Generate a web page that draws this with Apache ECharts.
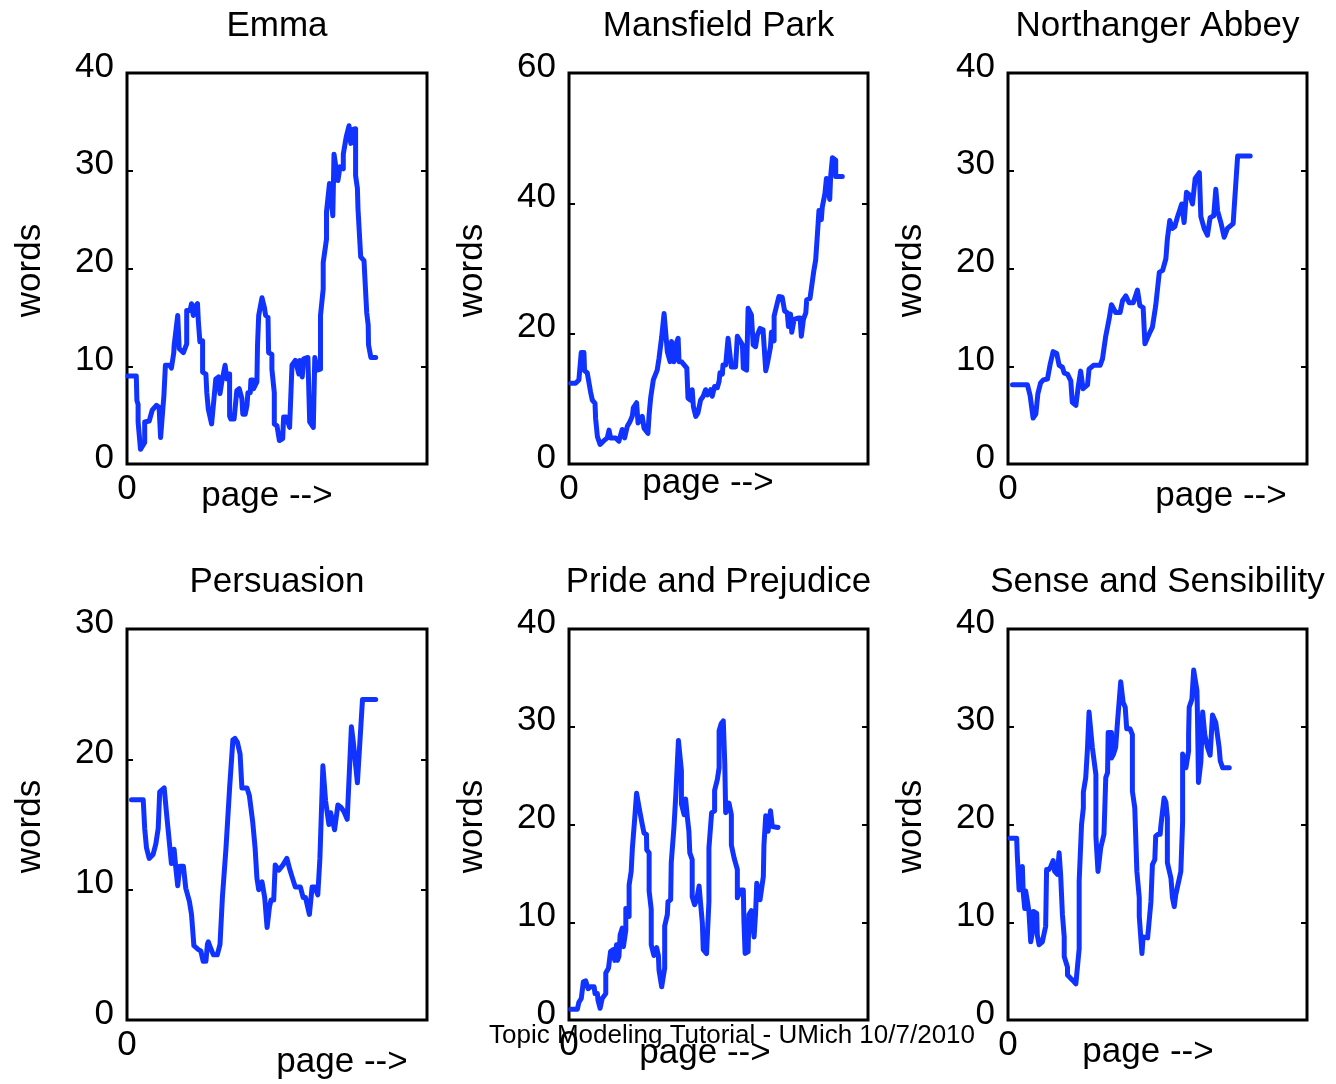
<!DOCTYPE html>
<html>
<head>
<meta charset="utf-8">
<script src="https://cdn.jsdelivr.net/npm/echarts@6/dist/echarts.min.js"></script>
<style>html,body{margin:0;padding:0;background:#fff}#c{width:1336px;height:1084px}</style>
</head>
<body>
<div id="c"></div>
<script>
// ---- data (x = position through the book, 0..100; y = words) ----
const titles = ["Emma", "Mansfield Park", "Northanger Abbey", "Persuasion", "Pride and Prejudice", "Sense and Sensibility"];
const yMax = [40, 60, 40, 30, 40, 40];
const yStep = [10, 20, 10, 10, 10, 10];

const emmaX = [0.3,3.1,3.3,3.7,3.7,4.5,5.1,5.9,5.9,7.4,7.8,8.4,9.8,10.7,11.2,11.7,12.3,12.8,14.3,14.8,15.6,15.7,16.9,17.4,18.8,19.9,19.9,21.0,21.5,22.1,22.7,23.5,23.8,24.3,25.2,25.2,26.3,26.6,27.1,28.2,29.0,29.6,30.5,31.0,31.6,32.7,33.3,33.5,34.2,34.2,34.6,35.7,36.6,37.4,38.3,38.6,39.4,40.0,40.3,41.1,41.3,42.0,42.2,43.3,43.5,43.9,45.0,45.8,46.2,47.0,47.2,48.3,48.3,49.1,49.1,50.0,50.8,51.9,52.2,53.1,54.2,55.0,56.1,57.3,57.6,58.4,58.9,60.3,60.9,62.1,62.6,63.4,64.5,64.5,65.4,65.4,66.5,66.5,67.5,68.6,69.0,70.3,71.0,72.1,72.1,73.1,74.0,74.6,75.1,76.2,76.2,76.8,77.0,77.9,79.0,79.9,80.4,80.5,81.3,82.9];
const emmaY = [9.0,9.0,6.5,6.1,4.3,1.5,1.8,2.2,4.3,4.4,4.6,5.5,6.0,5.8,2.7,2.9,7.0,10.1,10.1,9.8,11.4,12.1,15.2,11.8,11.4,12.3,15.7,15.7,16.4,15.2,16.1,16.4,14.5,12.5,12.6,9.4,9.2,7.3,5.6,4.1,6.7,8.7,8.9,7.2,8.4,10.1,8.7,9.2,9.2,4.9,4.6,4.6,7.5,7.7,6.7,5.1,5.1,6.0,7.3,7.3,8.6,8.6,7.7,8.4,12.1,15.2,17.0,16.0,15.2,15.0,11.4,11.2,9.7,7.3,4.1,3.9,2.4,2.6,4.8,4.8,3.75,10.1,10.6,9.2,10.6,8.9,10.75,10.9,4.3,3.75,10.9,9.6,9.7,15.2,17.9,20.6,23.0,25.8,28.7,25.4,31.7,29.0,30.4,30.2,31.7,33.5,34.6,32.8,34.2,34.3,29.5,28.2,26.1,21.2,20.8,15.5,14.2,12.2,10.9,10.9];

const mansX = [0.6,2.2,3.3,4.1,5.0,5.2,6.1,7.2,7.8,8.7,8.9,9.5,10.4,11.5,12.8,13.4,13.9,15.6,16.7,17.3,17.8,18.6,19.5,20.4,21.2,21.5,22.6,23.1,23.7,24.5,25.1,26.4,26.8,27.3,28.2,29.5,30.1,30.7,31.0,31.8,32.9,33.8,34.3,35.1,35.7,36.5,36.8,37.6,38.2,39.4,39.8,40.7,41.2,41.6,42.4,43.1,44.0,44.9,45.7,46.3,47.4,47.9,48.7,49.6,50.2,50.5,51.3,51.5,52.4,53.2,53.8,54.3,55.7,56.3,56.9,58.0,58.3,59.4,59.9,61.0,61.6,62.4,63.0,63.9,64.9,65.8,66.3,67.4,67.7,68.6,68.6,69.5,70.2,71.3,72.1,73.0,73.4,74.1,74.5,75.3,76.6,77.3,77.7,78.4,79.2,79.5,80.6,81.9,82.5,83.1,83.6,84.4,84.7,85.6,86.1,86.6,87.2,87.5,88.1,89.2,89.2,91.4];
const mansY = [12.4,12.4,12.9,17.1,17.1,14.3,14.0,11.1,9.8,9.3,7.0,4.2,3.0,3.5,4.0,5.2,4.0,4.0,3.5,4.5,5.3,4.0,5.8,6.5,7.4,8.6,9.4,6.3,6.0,7.3,5.5,4.7,7.6,10.1,12.9,14.4,16.2,16.5,19.5,23.1,17.2,15.7,18.8,15.7,18.3,19.3,15.7,15.7,15.5,14.7,10.1,9.8,11.4,8.8,7.3,7.8,9.8,10.4,11.4,10.6,11.4,10.4,11.9,11.7,12.7,14.0,13.8,15.2,15.2,19.3,19.3,14.9,14.9,19.6,19.3,18.3,14.7,14.4,23.9,22.9,18.3,18.0,19.8,20.8,20.6,14.3,15.3,18.0,20.2,18.9,22.7,24.4,25.7,25.6,23.5,23.2,21.1,23.0,20.2,22.2,22.4,22.4,19.6,22.2,23.2,25.2,25.4,29.7,31.3,35.4,38.9,37.5,39.4,41.5,43.8,43.8,40.6,44.1,47.0,46.6,44.1,44.1];

const northX = [1.5,6.5,7.4,8.4,9.3,10.0,10.9,11.8,13.2,14.1,15.1,16.3,17.1,18.2,18.8,19.9,21.0,21.5,22.7,23.4,24.3,25.1,26.6,27.1,28.6,30.8,31.6,32.7,33.8,34.6,36.0,37.5,38.3,39.4,40.5,41.9,43.3,44.1,45.2,45.8,47.2,48.3,49.4,50.6,51.7,52.8,53.3,54.1,55.0,55.8,56.7,58.1,58.9,59.7,60.8,61.7,62.6,64.0,64.5,65.6,66.7,67.6,68.8,69.5,70.1,71.2,72.3,73.4,75.3,76.8,81.0];
const northY = [8.1,8.1,7.0,4.7,5.1,7.2,8.3,8.6,8.7,10.2,11.5,11.3,10.1,9.9,9.3,9.2,8.5,6.3,6.0,7.7,9.5,7.7,8.1,9.7,10.1,10.1,10.75,13.1,14.8,16.3,15.5,15.5,16.7,17.2,16.5,16.5,17.8,16.2,16.0,12.3,13.3,14.0,16.2,19.6,19.8,21.0,23.0,24.9,24.1,24.3,25.3,26.6,24.7,27.8,27.5,26.6,29.2,29.8,25.3,24.1,23.4,25.2,25.4,28.1,25.9,24.7,23.2,24.1,24.6,31.5,31.5];

const persX = [1.5,5.4,5.9,6.5,7.4,8.7,9.6,10.4,10.9,12.4,13.2,14.3,14.8,15.7,16.3,16.9,17.6,18.8,19.6,20.8,21.5,22.3,23.8,24.6,25.4,26.3,26.8,27.1,27.9,28.8,30.1,31.0,31.8,33.0,34.2,35.3,36.0,36.8,37.7,38.3,40.0,40.8,41.9,42.7,43.3,43.9,45.0,45.9,46.7,47.5,48.0,48.9,49.4,50.6,52.0,53.3,54.2,55.0,56.1,57.8,58.7,59.5,60.8,61.7,62.6,63.6,64.3,65.3,66.2,67.3,67.9,69.2,70.3,71.4,72.3,73.4,74.8,75.4,76.8,78.5,82.9];
const persY = [16.9,16.9,14.7,13.2,12.4,12.7,13.5,14.7,17.5,17.8,15.8,13.2,12.0,13.1,11.6,10.3,11.8,11.8,10.1,9.1,8.1,5.7,5.4,5.3,4.5,4.5,5.8,6.0,5.5,5.0,5.0,5.8,9.4,13.2,17.8,21.5,21.6,21.3,20.4,17.8,17.8,17.2,15.2,13.2,10.9,10.0,10.6,9.4,7.1,8.7,9.2,9.2,11.9,11.5,11.9,12.4,11.6,11.0,10.2,10.2,9.4,9.4,8.1,10.2,10.2,9.6,12.4,19.5,16.8,15.0,15.9,14.6,16.5,16.3,16.0,15.4,22.5,21.4,18.2,24.6,24.6];

const prideX = [0.6,2.8,3.3,4.1,4.8,5.6,6.4,7.2,8.4,8.7,9.5,9.7,10.4,11.1,12.3,12.3,13.2,13.9,14.8,15.3,15.9,16.2,16.7,17.1,17.8,18.2,19.0,19.0,20.1,20.1,20.8,21.2,22.0,22.6,23.4,24.5,25.1,25.9,26.0,26.8,26.8,27.5,27.5,28.4,29.3,29.9,30.1,31.0,32.0,32.0,32.9,33.1,34.0,34.2,35.1,35.7,36.6,37.6,37.6,38.5,39.0,39.6,40.1,40.4,41.2,41.2,42.0,42.7,43.5,44.0,44.6,44.9,46.0,46.8,46.8,47.7,48.7,48.7,49.6,50.2,50.2,50.9,51.6,52.1,52.4,53.5,54.3,54.3,55.2,56.3,56.3,57.4,58.3,58.5,58.9,59.9,60.2,61.0,61.9,62.4,62.8,63.9,65.0,65.2,65.8,66.6,66.9,67.4,68.0,69.9];
const prideY = [1.1,1.1,1.8,2.2,3.9,4.0,3.2,3.4,3.4,2.7,2.7,2.0,1.2,2.2,2.7,4.8,5.3,7.0,7.2,6.1,7.7,6.1,6.5,8.7,9.4,7.5,9.2,11.4,10.6,13.8,15.2,17.6,20.7,23.2,21.8,20.0,19.1,19.0,17.4,17.1,13.2,11.3,7.7,6.6,7.4,6.6,5.1,3.4,5.3,9.6,10.8,12.1,12.3,16.1,19.7,22.9,28.6,25.5,22.1,21.0,22.6,20.7,19.3,17.1,16.4,12.6,11.8,12.3,13.7,13.7,9.9,7.2,6.8,12.1,17.6,21.2,21.4,23.5,24.6,25.8,29.6,30.3,30.6,26.2,21.2,22.2,21.0,17.9,16.6,15.4,12.5,13.3,13.3,10.1,6.8,7.0,10.8,11.2,8.5,10.9,14.0,12.3,14.7,17.9,20.9,19.3,20.2,21.4,19.8,19.7];

const senseX = [0.7,2.9,3.1,3.7,4.5,4.8,5.1,5.6,5.9,6.5,7.0,7.6,8.1,8.5,9.6,9.8,10.4,11.5,12.1,12.6,12.9,13.7,14.3,15.1,15.6,16.5,17.1,17.6,18.2,18.8,18.8,19.9,19.9,21.5,22.7,23.8,23.8,24.6,25.2,25.2,26.0,26.6,27.1,28.2,29.4,29.4,30.1,31.0,32.1,32.7,33.3,33.5,34.6,34.6,35.3,36.0,36.6,37.7,38.5,39.2,39.7,39.7,40.8,41.6,41.6,42.4,43.1,43.9,43.9,44.8,45.2,46.7,47.8,48.3,49.1,49.4,50.2,50.9,51.1,52.2,52.8,53.3,53.3,54.5,55.0,55.6,56.1,56.7,57.8,58.4,58.4,59.5,60.4,60.4,60.6,61.5,62.1,63.2,63.4,63.7,64.5,65.1,65.8,66.7,67.6,68.4,69.5,70.6,71.0,71.8,74.0];
const senseY = [18.6,18.6,16.9,13.3,13.4,15.7,13.0,11.4,13.2,12.1,11.1,8.0,8.9,11.1,10.9,8.7,7.7,8.0,8.2,9.6,15.4,15.4,15.7,16.3,15.2,14.9,17.1,14.9,10.8,8.5,6.5,5.4,4.6,4.1,3.7,7.3,14.2,20.0,21.7,23.3,24.8,27.9,31.5,27.9,25.1,18.8,15.2,17.6,19.0,24.8,25.3,29.4,29.4,26.8,27.2,27.9,30.4,34.6,32.5,32.0,31.8,29.8,29.8,29.2,23.4,21.7,15.2,12.5,10.6,6.8,8.5,8.4,12.1,15.9,16.4,18.8,19.0,19.0,19.8,22.7,22.3,20.7,16.1,14.5,12.5,11.6,12.8,12.8,15.2,20.3,27.2,25.8,27.5,29.2,32.0,32.8,35.8,33.7,30.6,24.3,26.4,31.5,29.2,27.9,27.1,31.2,30.4,27.9,26.5,25.8,25.8];

const seriesX = [emmaX, mansX, northX, persX, prideX, senseX];
const seriesY = [emmaY, mansY, northY, persY, prideY, senseY];

// ---- layout ----
const colLeft = [127, 569, 1008];
const colW = [300, 299, 299];
const rowTop = [73, 629];
const plotH = 391;
const pageLabelPos = [[267, 496], [708, 483], [1221, 496], [342, 1062], [705, 1053], [1148, 1052]];

const FONT = "'Liberation Sans', Arial, Helvetica, sans-serif";
const LINE = '#1133ff';

const grids = [], xAxes = [], yAxes = [], series = [], graphics = [];
for (let i = 0; i < 6; i++) {
  const c = i % 3, r = Math.floor(i / 3);
  grids.push({left: colLeft[c], top: rowTop[r], width: colW[c], height: plotH,
    show: true, borderColor: '#000', borderWidth: 3, backgroundColor: 'transparent'});
  xAxes.push({type: 'value', gridIndex: i, min: 0, max: 100, interval: 100,
    axisLine: {show: false}, axisTick: {show: false}, splitLine: {show: false},
    axisLabel: {show: true, margin: 8, fontSize: 35, fontFamily: FONT, color: '#000',
      formatter: v => (v === 0 ? '0' : '')}});
  yAxes.push({type: 'value', gridIndex: i, min: 0, max: yMax[i], interval: yStep[i], position: 'left',
    axisLine: {show: false}, splitLine: {show: false},
    axisTick: {show: true, inside: true, length: 6, lineStyle: {color: '#000', width: 2}},
    axisLabel: {show: true, margin: 13, fontSize: 35, fontFamily: FONT, color: '#000',
      verticalAlign: 'bottom', lineHeight: 12}});
  yAxes.push({type: 'value', gridIndex: i, min: 0, max: yMax[i], interval: yStep[i], position: 'right',
    axisLine: {show: false}, splitLine: {show: false}, axisLabel: {show: false},
    axisTick: {show: true, inside: true, length: 6, lineStyle: {color: '#000', width: 2}}});
  series.push({type: 'line', xAxisIndex: i, yAxisIndex: 2 * i, showSymbol: false, symbol: 'none',
    animation: false, clip: true,
    lineStyle: {color: LINE, width: 5, join: 'round', cap: 'round'},
    data: seriesX[i].map((x, k) => [x, seriesY[i][k]])});
  graphics.push({type: 'text', x: colLeft[c] + colW[c] / 2, y: (r === 0 ? 26 : 582),
    style: {text: titles[i], fontSize: 35, fontFamily: FONT, fill: '#000', align: 'center', verticalAlign: 'middle'}});
  graphics.push({type: 'text', x: colLeft[c] - 97, y: rowTop[r] + plotH / 2 + 2, rotation: Math.PI / 2,
    style: {text: 'words', fontSize: 35, fontFamily: FONT, fill: '#000', align: 'center', verticalAlign: 'middle'}});
  graphics.push({type: 'text', x: pageLabelPos[i][0], y: pageLabelPos[i][1],
    style: {text: 'page -->', fontSize: 35, fontFamily: FONT, fill: '#000', align: 'center', verticalAlign: 'middle'}});
}
graphics.push({type: 'text', x: 732, y: 1036, z: 100,
  style: {text: 'Topic Modeling Tutorial - UMich 10/7/2010', fontSize: 26, fontFamily: FONT, fill: '#000', align: 'center', verticalAlign: 'middle'}});

const chart = echarts.init(document.getElementById('c'), null, {renderer: 'canvas'});
chart.setOption({
  animation: false,
  backgroundColor: '#fff',
  grid: grids, xAxis: xAxes, yAxis: yAxes, series: series,
  graphic: graphics
});
</script>
</body>
</html>
